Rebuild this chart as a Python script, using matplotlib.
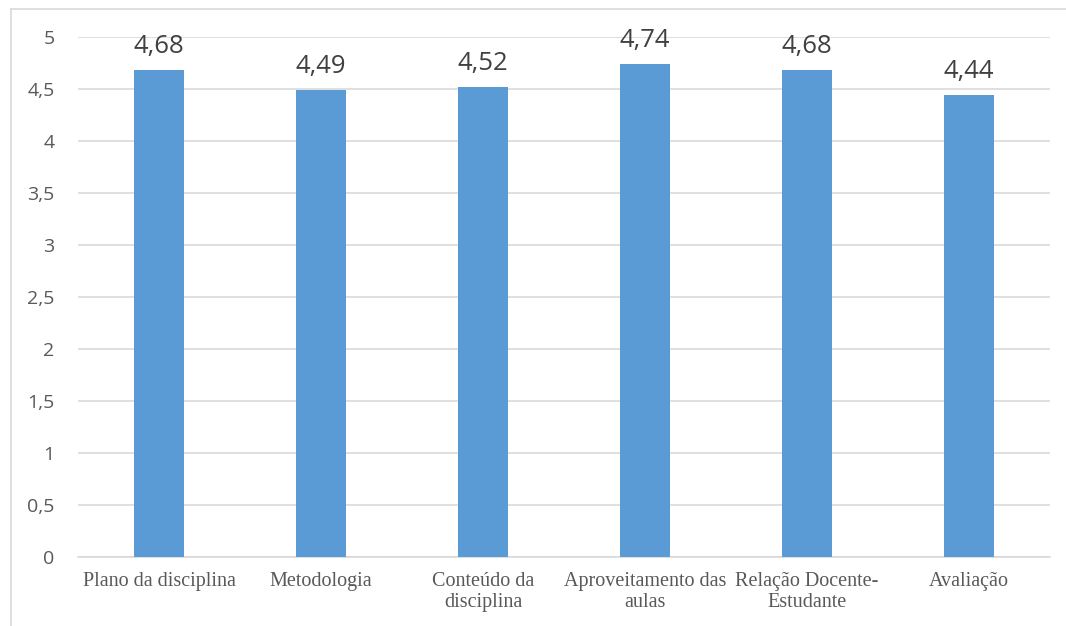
import numpy as np
import matplotlib.pyplot as plt
from matplotlib.lines import Line2D

categories = ["Plano da disciplina", "Metodologia", "Conteúdo da\ndisciplina",
              "Aproveitamento das\naulas", "Relação Docente-\nEstudante", "Avaliação"]
values = [4.68, 4.49, 4.52, 4.74, 4.68, 4.44]
yticks = [0, 0.5, 1, 1.5, 2, 2.5, 3, 3.5, 4, 4.5, 5]

bar_color = "#5B9BD5"
text_color = "#595959"
grid_color = "#D9D9D9"

fig = plt.figure(figsize=(10.66, 6.26), dpi=100)
ax = fig.add_axes([78 / 1066, 1 - 557 / 626, (1050 - 78) / 1066, (557 - 37) / 626])

x = np.arange(len(categories))
bars = ax.bar(x, values, width=0.31, color=bar_color, zorder=3)

for xi, v in zip(x, values):
    ax.annotate(f"{v:.2f}".replace(".", ","), (xi, v), xytext=(0, 8),
                textcoords="offset points", ha="center", va="bottom",
                fontsize=18.5, color="#404040", family="Open Sans")

ax.set_xlim(-0.5, len(categories) - 0.5)
ax.set_ylim(0, 5)
ax.set_yticks(yticks)
ax.set_yticklabels([f"{t:g}".replace(".", ",") for t in yticks],
                   fontsize=14, color=text_color, family="Open Sans")
ax.set_xticks(x)
ax.set_xticklabels(categories, fontsize=14.5, color=text_color,
                   family="Liberation Serif", linespacing=1.15)
ax.tick_params(axis="y", length=0, pad=17)
ax.tick_params(axis="x", length=0, pad=11)
ax.grid(axis="y", color=grid_color, linewidth=1.2, zorder=0)
for s in ["top", "right", "left"]:
    ax.spines[s].set_visible(False)
ax.spines["bottom"].set_color(grid_color)
ax.spines["bottom"].set_linewidth(1.2)

# outer chart frame (top and left edges visible)
fig.add_artist(Line2D([11 / 1066, 1], [1 - 9 / 626, 1 - 9 / 626], color=grid_color, linewidth=1.2))
fig.add_artist(Line2D([11 / 1066, 11 / 1066], [0, 1 - 9 / 626], color=grid_color, linewidth=1.2))

fig.savefig("out.png", dpi=100)
